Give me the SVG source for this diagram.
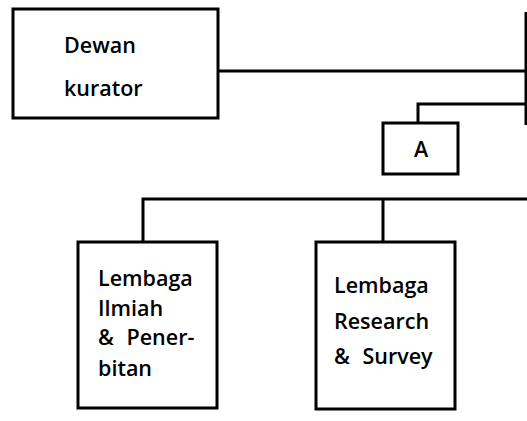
<svg xmlns="http://www.w3.org/2000/svg" width="527" height="421" viewBox="0 0 527 421">
<style>
.box{fill:#fff;stroke:#000;stroke-width:3}
.ln{fill:none;stroke:#000;stroke-width:3}
text{font-family:"Open Sans","DejaVu Sans",sans-serif;font-size:21.5px;font-weight:600;fill:#000}
</style>
<rect width="527" height="421" fill="#fff"/>
<g id="connectors">
<path class="ln" d="M218 71 H527"/>
<path class="ln" d="M526 12 V125"/>
<path class="ln" d="M418 123 V104 H527"/>
<path class="ln" d="M143 242 V199 H527"/>
<path class="ln" d="M383 199 V242"/>
</g>
<g id="dewan-kurator">
<rect class="box" x="13" y="9" width="205" height="109"/>
<text x="64" y="53">Dewan</text>
<text x="64" y="96">kurator</text>
</g>
<g id="a">
<rect class="box" x="383" y="123" width="75" height="51"/>
<text x="421" y="157" text-anchor="middle">A</text>
</g>
<g id="lembaga-ilmiah">
<rect class="box" x="78" y="242" width="139" height="166"/>
<text x="98" y="286">Lembaga</text>
<text x="98" y="316">Ilmiah</text>
<text x="98" y="345">&amp;<tspan dx="7"> Pener-</tspan></text>
<text x="98" y="376">bitan</text>
</g>
<g id="lembaga-research">
<rect class="box" x="316" y="242" width="139" height="167"/>
<text x="334" y="293">Lembaga</text>
<text x="334" y="329">Research</text>
<text x="334" y="364">&amp;<tspan dx="7"> Survey</tspan></text>
</g>
</svg>
